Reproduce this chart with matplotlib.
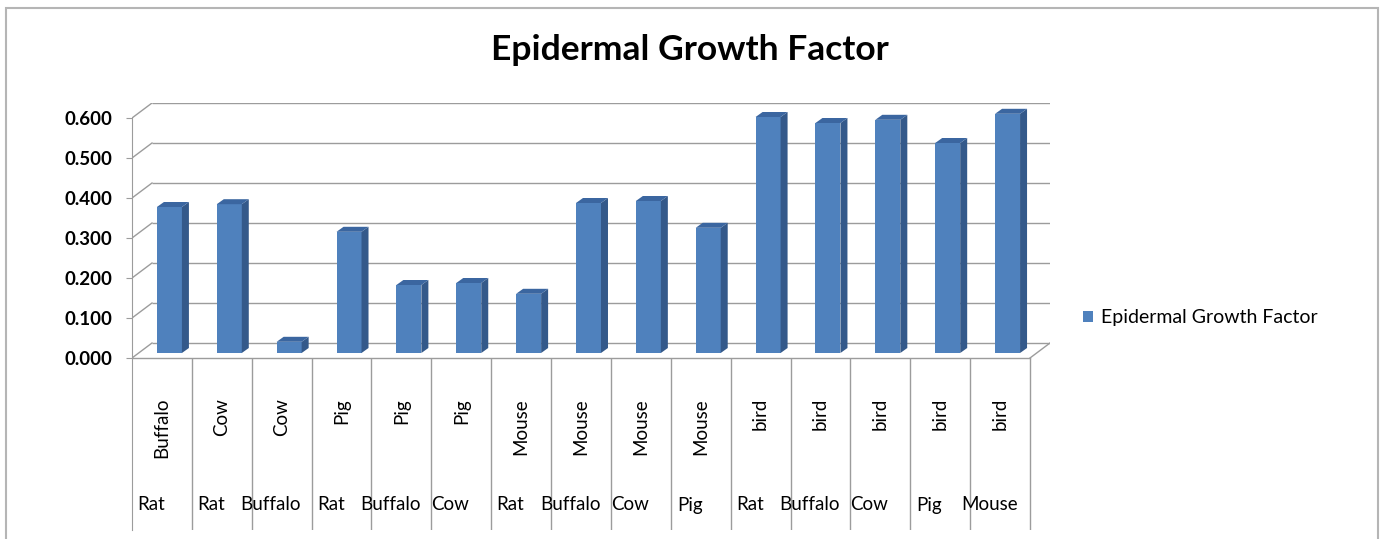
import numpy as np
import matplotlib.pyplot as plt
from matplotlib.patches import Polygon, Rectangle

# ------------------ data ------------------
inner_labels = ["Buffalo", "Cow", "Cow", "Pig", "Pig", "Pig", "Mouse", "Mouse",
                "Mouse", "Mouse", "bird", "bird", "bird", "bird", "bird"]
outer_labels = ["Rat", "Rat", "Buffalo", "Rat", "Buffalo", "Cow", "Rat", "Buffalo",
                "Cow", "Pig", "Rat", "Buffalo", "Cow", "Pig", "Mouse"]
values = [0.365, 0.372, 0.028, 0.303, 0.170, 0.175, 0.148, 0.375,
          0.380, 0.313, 0.590, 0.575, 0.583, 0.525, 0.598]
y_ticks = [0.0, 0.1, 0.2, 0.3, 0.4, 0.5, 0.6]
series_name = "Epidermal Growth Factor"
title = "Epidermal Growth Factor"
# ------------------------------------------

W, H = 1385, 539
FRONT = "#4F81BD"
SIDE = "#34598A"
TOP = "#3B66A0"
GRID = "#9c9c9c"
FONT = ["Lato", "DejaVu Sans"]

plt.rcParams["font.family"] = FONT

n = len(values)
# fake 3D depth (data units), from pixel measurements of the reference
px_per_cat = (1030 - 132) / n
DX = 20 / px_per_cat
DY = 15 / 400.0
y_bottom = -(530 - 358) / 400.0
y_top = max(y_ticks) + DY

fig = plt.figure(figsize=(W / 100, H / 100), dpi=100)
left_px, right_px = 132, 132 + (n + DX) * px_per_cat
bot_px, top_px = 530, 103
ax = fig.add_axes([left_px / W, 1 - bot_px / H,
                   (right_px - left_px) / W, (bot_px - top_px) / H])
ax.set_xlim(0, n + DX)
ax.set_ylim(y_bottom, y_top)
ax.patch.set_alpha(0)

for s in ["top", "right", "bottom"]:
    ax.spines[s].set_visible(False)
ax.spines["left"].set_bounds(y_bottom, max(y_ticks))
ax.spines["left"].set_color(GRID)
ax.set_xticks([])
ax.set_yticks(y_ticks)
ax.set_yticklabels([f"{t:.3f}" for t in y_ticks], fontsize=13.5, fontweight="bold")
ax.tick_params(axis="y", direction="out", length=4, color=GRID, pad=10)

# back wall gridlines + side wall diagonals
ax.hlines([t + DY for t in y_ticks], DX, n + DX, colors=GRID, lw=1.0)
for t in y_ticks:
    ax.plot([0, DX], [t, t + DY], color=GRID, lw=1.0)
# floor
ax.plot([0, n], [0, 0], color=GRID, lw=1.0)
ax.plot([n, n + DX], [0, DY], color=GRID, lw=1.0)
# category dividers below the floor
ax.vlines(np.arange(1, n + 1), y_bottom, 0, colors=GRID, lw=1.0)

# bars
bw = 25 / px_per_cat
sx, sy = 0.125, 0.0125
ddx, ddy = 7 / px_per_cat, 5 / 400.0
x = np.arange(n) + 0.5 + sx
bars = ax.bar(x, values, width=bw, bottom=sy, color=FRONT, label=series_name, zorder=3)
for xi, v in zip(x, values):
    xl, xr = xi - bw / 2, xi + bw / 2
    ax.add_patch(Polygon([(xr, sy), (xr + ddx, sy + ddy), (xr + ddx, sy + v + ddy), (xr, sy + v)],
                         closed=True, facecolor=SIDE, edgecolor="none", zorder=3))
    ax.add_patch(Polygon([(xl, sy + v), (xr, sy + v), (xr + ddx, sy + v + ddy), (xl + ddx, sy + v + ddy)],
                         closed=True, facecolor=TOP, edgecolor="none", zorder=3))

# two-level category labels
for i, (a, b) in enumerate(zip(inner_labels, outer_labels)):
    ax.text(i + 0.5, -(398 - 358) / 400.0, a, rotation=90, ha="center", va="top",
            fontsize=13.5)
    ax.text(i + 0.5 - 0.18, -(505 - 358) / 400.0, b, ha="center", va="center",
            fontsize=13.5)

fig.text(690 / W, 1 - 50 / H, title, ha="center", va="center",
         fontsize=25.5, fontweight="bold")

fig.legend(handles=[bars], loc="center left", bbox_to_anchor=(1073 / W, 1 - 318 / H),
           frameon=False, fontsize=14, handlelength=0.55, handleheight=0.55,
           handletextpad=0.4, borderpad=0)

fig.patches.append(Rectangle((6 / W, -0.05), (1378 - 6) / W, 1.05 - 8 / H,
                             transform=fig.transFigure, fill=False,
                             edgecolor="#b5b5b5", lw=1.5))

fig.savefig("out.png", dpi=100)
